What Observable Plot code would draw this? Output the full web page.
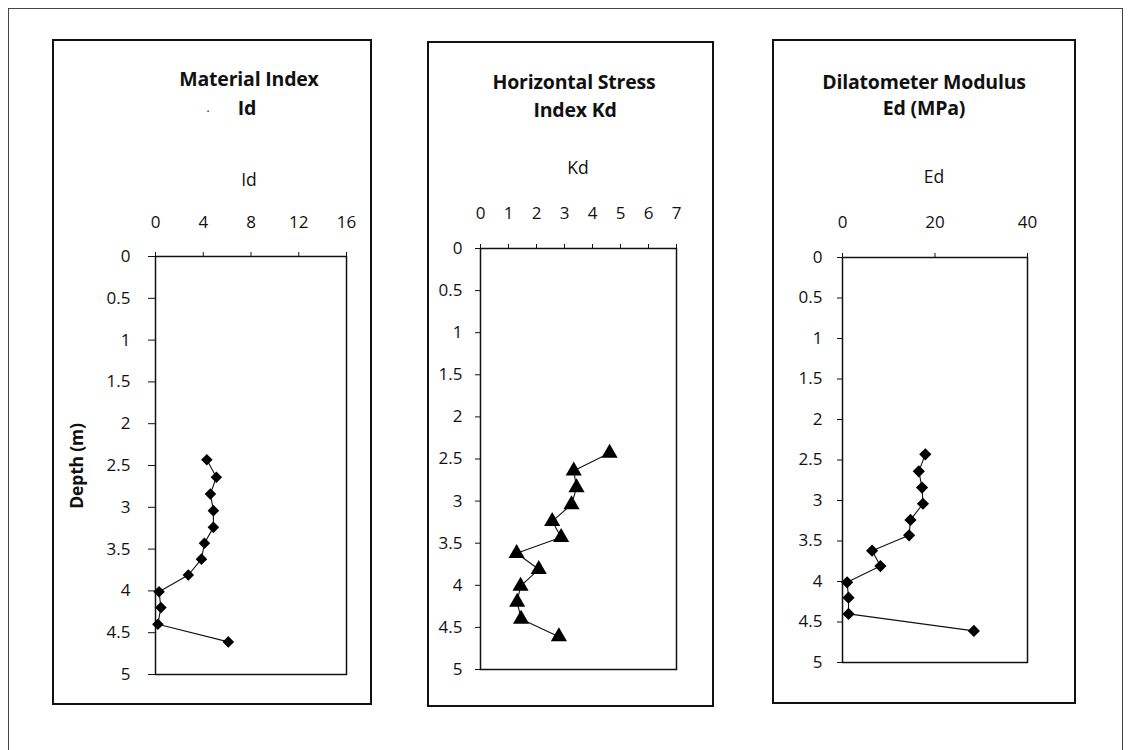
<!DOCTYPE html>
<html><head><meta charset="utf-8">
<script src="https://cdn.jsdelivr.net/npm/d3@7"></script>
<script src="https://cdn.jsdelivr.net/npm/@observablehq/plot@0.6"></script>
<style>
body{margin:0;background:#fff;font-family:"Open Sans",sans-serif;}
#root{position:relative;width:1132px;height:750px;overflow:hidden;background:#fff;}
.outer{position:absolute;left:8px;top:8px;width:1115px;height:780px;border:1px solid #444;box-sizing:border-box;}
.box{position:absolute;border:2px solid #111;box-sizing:border-box;}
.t{position:absolute;transform:translate(-50%,-50%);white-space:nowrap;color:#111;line-height:1;}
.title{font-weight:700;font-size:19.5px;letter-spacing:-0.2px;}
.lab{font-size:17.5px;}
.chart{position:absolute;}
</style></head><body><div id="root"><div class="outer"></div></div>
<script>
// ---- data ----
const depth = [2.43, 2.64, 2.84, 3.04, 3.24, 3.43, 3.62, 3.81, 4.01, 4.20, 4.40, 4.61];
const idValues = [4.3, 5.1, 4.6, 4.85, 4.85, 4.1, 3.85, 2.75, 0.3, 0.45, 0.2, 6.1];
const kdValues = [4.61, 3.33, 3.43, 3.25, 2.56, 2.88, 1.29, 2.08, 1.43, 1.31, 1.45, 2.80];
const edValues = [17.9, 16.5, 17.2, 17.4, 14.7, 14.4, 6.4, 8.2, 1.0, 1.3, 1.3, 28.4];
const depthTicks = [0, 0.5, 1, 1.5, 2, 2.5, 3, 3.5, 4, 4.5, 5];
const idTicks = [0, 4, 8, 12, 16];
const kdTicks = [0, 1, 2, 3, 4, 5, 6, 7];
const edTicks = [0, 20, 40];
const titleLines = [["Material Index", "Id"], ["Horizontal Stress", "Index Kd"], ["Dilatometer Modulus", "Ed (MPa)"]];
const axisLabels = ["Id", "Kd", "Ed"];
const yLabel = "Depth (m)";

// ---- layout ----
const layout = [
  {box: [52, 39, 320, 666], m: [217, 26, 31, 103], ySize: 7, yPad: 18, xPad: 24, symbol: "diamond2", r: 5.2,
   t1: [249, 79], t2: [247, 108], ax: [249, 180]},
  {box: [427, 41, 287, 666], m: [207, 38, 38, 53], ySize: 5, yPad: 13, xPad: 25, symbol: "triangle", r: 6,
   t1: [574, 82], t2: [575, 110], ax: [578, 168]},
  {box: [772, 39, 304, 665], m: [218, 49, 42, 70], ySize: 5, yPad: 15, xPad: 24.5, symbol: "diamond2", r: 5.5,
   t1: [924, 82], t2: [924, 108], ax: [934, 177]}
];
const series = [idValues, kdValues, edValues];
const xTickSets = [idTicks, kdTicks, edTicks];
const fmt = d => String(d);

const root = document.getElementById("root");
function addText(txt, x, y, cls, extra) {
  const d = document.createElement("div");
  d.className = "t " + cls;
  d.textContent = txt;
  d.style.left = x + "px";
  d.style.top = y + "px";
  if (extra) Object.assign(d.style, extra);
  root.appendChild(d);
}

layout.forEach((L, k) => {
  const [bx, by, bw, bh] = L.box;
  const box = document.createElement("div");
  box.className = "box";
  Object.assign(box.style, {left: bx + "px", top: by + "px", width: bw + "px", height: bh + "px"});
  root.appendChild(box);

  const data = depth.map((d, i) => ({x: series[k][i], y: d}));
  const ticks = xTickSets[k];
  const svg = Plot.plot({
    width: bw, height: bh,
    marginTop: L.m[0], marginRight: L.m[1], marginBottom: L.m[2], marginLeft: L.m[3],
    x: {domain: [ticks[0], ticks[ticks.length - 1]]},
    y: {domain: [0, 5], reverse: true},
    style: {fontFamily: "Open Sans", fontSize: "17px", color: "#111", background: "transparent", overflow: "visible"},
    marks: [
      Plot.frame({stroke: "#111", strokeWidth: 1.5}),
      Plot.axisX({anchor: "top", ticks: ticks, tickFormat: fmt, tickSize: 5, tickPadding: L.xPad, label: null}),
      Plot.axisY({anchor: "left", ticks: depthTicks, tickFormat: fmt, tickSize: L.ySize, tickPadding: L.yPad, label: null}),
      Plot.line(data, {x: "x", y: "y", stroke: "#111", strokeWidth: 1.1}),
      Plot.dot(data, {x: "x", y: "y", symbol: L.symbol, r: L.r, fill: "#000", stroke: "none"})
    ]
  });
  svg.classList.add("chart");
  svg.style.left = bx + "px";
  svg.style.top = by + "px";
  root.appendChild(svg);

  addText(titleLines[k][0], L.t1[0], L.t1[1], "title");
  addText(titleLines[k][1], L.t2[0], L.t2[1], "title");
  addText(axisLabels[k], L.ax[0], L.ax[1], "lab");
});
addText(".", 208, 108, "lab", {fontSize: "12px"});
addText(yLabel, 77, 466, "title", {transform: "translate(-50%,-50%) rotate(-90deg)", fontSize: "17.5px"});
</script>
</body></html>
